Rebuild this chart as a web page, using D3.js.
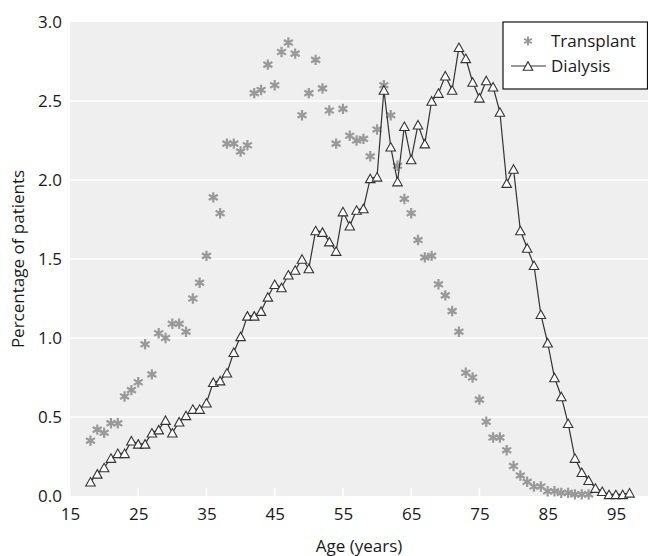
<!DOCTYPE html>
<html>
<head>
<meta charset="utf-8">
<script src="https://cdn.jsdelivr.net/npm/d3@7"></script>
<style>
  html, body { margin: 0; padding: 0; background: #fff; }
  svg { display: block; font-family: "Open Sans", "Noto Sans", sans-serif; }
</style>
</head>
<body>
<svg id="chart" width="648" height="556"></svg>
<script>
// Age of patients (years)
const dialysisAges = d3.range(18, 98);
const transplantAges = d3.range(18, 92);

// Percentage of patients at each age
const dialysisValues = [
  0.09, 0.14, 0.18, 0.24, 0.27, 0.27, 0.35, 0.33, 0.33, 0.40,
  0.42, 0.48, 0.40, 0.47, 0.51, 0.55, 0.55, 0.59, 0.72, 0.73,
  0.78, 0.91, 1.01, 1.14, 1.14, 1.17, 1.26, 1.34, 1.32, 1.40,
  1.43, 1.50, 1.44, 1.68, 1.67, 1.61, 1.55, 1.80, 1.71, 1.81,
  1.82, 2.01, 2.02, 2.57, 2.21, 1.99, 2.34, 2.13, 2.35, 2.23,
  2.50, 2.55, 2.66, 2.57, 2.84, 2.77, 2.62, 2.52, 2.63, 2.59,
  2.43, 1.98, 2.07, 1.68, 1.57, 1.46, 1.15, 0.97, 0.75, 0.63,
  0.46, 0.24, 0.15, 0.10, 0.05, 0.03, 0.01, 0.01, 0.01, 0.02
];
const transplantValues = [
  0.35, 0.42, 0.40, 0.46, 0.46, 0.63, 0.67, 0.72, 0.96, 0.77,
  1.03, 1.00, 1.09, 1.09, 1.04, 1.25, 1.35, 1.52, 1.89, 1.79,
  2.23, 2.23, 2.18, 2.22, 2.55, 2.57, 2.73, 2.60, 2.81, 2.87,
  2.80, 2.41, 2.55, 2.76, 2.58, 2.44, 2.23, 2.45, 2.28, 2.25,
  2.26, 2.15, 2.32, 2.60, 2.41, 2.09, 1.88, 1.79, 1.62, 1.51,
  1.52, 1.34, 1.27, 1.17, 1.04, 0.78, 0.75, 0.61, 0.47, 0.37,
  0.37, 0.29, 0.19, 0.13, 0.09, 0.06, 0.06, 0.03, 0.03, 0.02,
  0.02, 0.01, 0.01, 0.01
];

const xTicks = [15, 25, 35, 45, 55, 65, 75, 85, 95];
const yTicks = [0, 0.5, 1.0, 1.5, 2.0, 2.5, 3.0];
const seriesNames = ["Transplant", "Dialysis"];

const dialysis = dialysisAges.map((a, i) => ({ age: a, value: dialysisValues[i] }));
const transplant = transplantAges.map((a, i) => ({ age: a, value: transplantValues[i] }));

const svg = d3.select("#chart");
const plot = { left: 70, right: 650, top: 22, bottom: 496 };
const fontSize = 17;

const x = d3.scaleLinear().domain([15, 100]).range([plot.left, plot.right]);
const y = d3.scaleLinear().domain([0, 3]).range([plot.bottom, plot.top]);

// Panel background
svg.append("rect")
  .attr("x", plot.left).attr("y", plot.top)
  .attr("width", plot.right - plot.left).attr("height", plot.bottom - plot.top)
  .attr("fill", "#efefef");

// Horizontal gridlines
svg.append("g")
  .selectAll("line")
  .data(yTicks.filter(t => t > 0 && t < 3))
  .join("line")
  .attr("x1", plot.left).attr("x2", plot.right)
  .attr("y1", d => y(d)).attr("y2", d => y(d))
  .attr("stroke", "#fff").attr("stroke-width", 1.6);

// Small white tick marks along the bottom of the panel
svg.append("g")
  .selectAll("line")
  .data(xTicks)
  .join("line")
  .attr("x1", d => x(d)).attr("x2", d => x(d))
  .attr("y1", plot.bottom - 8).attr("y2", plot.bottom)
  .attr("stroke", "#fff").attr("stroke-width", 1.6);

// Axes (labels only)
const xAxis = svg.append("g")
  .attr("transform", `translate(0,${plot.bottom})`)
  .call(d3.axisBottom(x).tickValues(xTicks).tickSize(0).tickPadding(12).tickFormat(d3.format("d")));
const yAxis = svg.append("g")
  .attr("transform", `translate(${plot.left},0)`)
  .call(d3.axisLeft(y).tickValues(yTicks).tickSize(0).tickPadding(8).tickFormat(d3.format(".1f")));
[xAxis, yAxis].forEach(g => {
  g.select(".domain").remove();
  g.selectAll("text")
    .attr("font-family", "'Open Sans', sans-serif")
    .attr("font-size", fontSize)
    .attr("fill", "#1a1a1a");
});

// Axis titles
svg.append("text")
  .attr("x", (plot.left + 648) / 2).attr("y", 552)
  .attr("text-anchor", "middle")
  .attr("font-size", fontSize).attr("fill", "#1a1a1a")
  .text("Age (years)");
svg.append("text")
  .attr("transform", `translate(24,${(plot.top + plot.bottom) / 2}) rotate(-90)`)
  .attr("text-anchor", "middle")
  .attr("font-size", fontSize).attr("fill", "#1a1a1a")
  .text("Percentage of patients");

// Marker shapes
const starPath = (r) => {
  const a = Math.PI / 6;
  const dx = r * Math.cos(a), dy = r * Math.sin(a);
  return `M0,${-r}L0,${r}M${-dx},${-dy}L${dx},${dy}M${-dx},${dy}L${dx},${-dy}`;
};
const triPath = (w, h) => `M0,${-h / 2}L${w / 2},${h / 2}L${-w / 2},${h / 2}Z`;

// Transplant series: asterisk markers
svg.append("g")
  .selectAll("path")
  .data(transplant)
  .join("path")
  .attr("transform", d => `translate(${x(d.age)},${y(d.value)})`)
  .attr("d", starPath(5.2))
  .attr("fill", "none")
  .attr("stroke", "#999")
  .attr("stroke-width", 2.2);

// Dialysis series: line with open triangles
svg.append("path")
  .datum(dialysis)
  .attr("d", d3.line().x(d => x(d.age)).y(d => y(d.value)))
  .attr("fill", "none")
  .attr("stroke", "#333")
  .attr("stroke-width", 1.2);
svg.append("g")
  .selectAll("path")
  .data(dialysis)
  .join("path")
  .attr("transform", d => `translate(${x(d.age)},${y(d.value)})`)
  .attr("d", triPath(9.5, 8.5))
  .attr("fill", "#fff")
  .attr("stroke", "#333")
  .attr("stroke-width", 1.1);

// Legend
const legend = svg.append("g");
legend.append("rect")
  .attr("x", 503).attr("y", 22).attr("width", 144.5).attr("height", 67)
  .attr("fill", "#fff").attr("stroke", "#111").attr("stroke-width", 1.2);
legend.append("path")
  .attr("transform", "translate(528,41)")
  .attr("d", starPath(4.5))
  .attr("stroke", "#999").attr("stroke-width", 2).attr("fill", "none");
legend.append("line")
  .attr("x1", 511).attr("x2", 546).attr("y1", 66).attr("y2", 66)
  .attr("stroke", "#333").attr("stroke-width", 1.2);
legend.append("path")
  .attr("transform", "translate(528,66)")
  .attr("d", triPath(9.5, 8.5))
  .attr("fill", "#fff").attr("stroke", "#333").attr("stroke-width", 1.1);
legend.selectAll("text.lbl")
  .data(seriesNames)
  .join("text")
  .attr("class", "lbl")
  .attr("x", 551).attr("y", (d, i) => 41 + i * 25)
  .attr("dy", "0.35em")
  .attr("font-size", fontSize).attr("fill", "#1a1a1a")
  .text(d => d);
</script>
</body>
</html>
